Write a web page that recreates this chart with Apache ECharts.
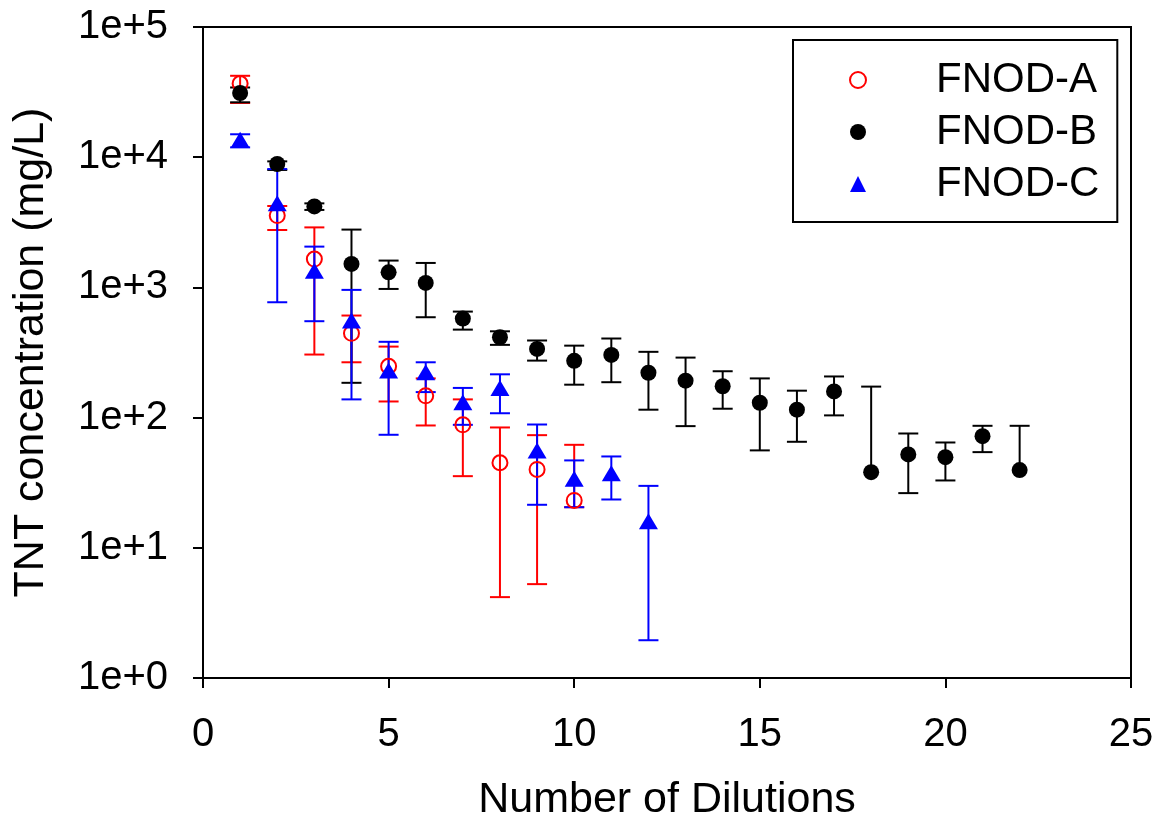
<!DOCTYPE html>
<html>
<head>
<meta charset="utf-8">
<script src="https://cdn.jsdelivr.net/npm/echarts@6/dist/echarts.min.js"></script>
<style>
  html, body { margin: 0; padding: 0; background: #fff; }
  #main { width: 1162px; height: 822px; }
</style>
</head>
<body>
<div id="main"></div>
<script>
// 数据：稀释次数与 TNT 浓度 (mg/L)
var dilA = [1, 2, 3, 4, 5, 6, 7, 8, 9, 10];
var valA = [36800, 3560, 1650, 444, 248, 147, 88, 45, 40, 23.1];
var lowA = [26100, 2760, 305, 266, 133, 87, 35.5, 4.18, 5.26, 20.5];
var highA = [42200, 4220, 2890, 608, 351, 200, 138, 84, 73.3, 61.8];

var dilB = [1, 2, 3, 4, 5, 6, 7, 8, 9, 10, 11, 12, 13, 14, 15, 16, 17, 18, 19, 20, 21, 22];
var valB = [31100, 8870, 4190, 1515, 1306, 1083, 576, 414, 337, 273, 303, 221, 192, 174, 130, 115, 159, 38.1, 52.1, 49.7, 72, 39.5];
var lowB = [26400, 7980, 3935, 185, 973, 590, 474, 362, 274, 179, 187, 115, 86, 117, 56, 65.2, 104, null, 26.3, 32.9, 54.3, null];
var highB = [34300, 9290, 4420, 2780, 1607, 1541, 652, 460, 391, 357, 405, 320, 289, 227, 200, 161, 207, 173, 75.5, 64.4, 86.5, 86.5];

var dilC = [1, 2, 3, 4, 5, 6, 7, 8, 9, 10, 11, 12];
var valC = [13600, 4420, 1345, 556, 230, 223, 131, 169, 56, 33.9, 37.4, 16.0];
var lowC = [11900, 769, 550, 138, 73.8, 157, 88, 108, 21.4, 20.5, 23.5, 1.95];
var highC = [15000, 8110, 2057, 957, 382, 266, 169, 215, 88.5, 46.9, 50.3, 29.9];

var xTicks = [0, 5, 10, 15, 20, 25];
var yTicks = [1, 10, 100, 1000, 10000, 100000];

var FONT = '"Liberation Sans", Arial, Helvetica, sans-serif';

function points(xs, vs) {
    return xs.map(function (x, i) { return [x, vs[i]]; });
}
// [x, 下限, 上限, 是否有下限]
function errData(xs, vs, lo, hi) {
    return xs.map(function (x, i) {
        return [x, lo[i] == null ? vs[i] : lo[i], hi[i], lo[i] == null ? 0 : 1];
    });
}

function errRender(color) {
    return function (params, api) {
        var x = api.value(0);
        var top = api.coord([x, api.value(2)]);
        var bot = api.coord([x, api.value(1)]);
        var hw = 10;
        var st = { stroke: color, lineWidth: 2 };
        var kids = [
            { type: 'line', shape: { x1: top[0], y1: top[1], x2: bot[0], y2: bot[1] }, style: st },
            { type: 'line', shape: { x1: top[0] - hw, y1: top[1], x2: top[0] + hw, y2: top[1] }, style: st }
        ];
        if (api.value(3) === 1) {
            kids.push({ type: 'line', shape: { x1: bot[0] - hw, y1: bot[1], x2: bot[0] + hw, y2: bot[1] }, style: st });
        }
        return { type: 'group', children: kids };
    };
}

var chart = echarts.init(document.getElementById('main'));

var option = {
    backgroundColor: '#fff',
    animation: false,
    textStyle: { fontFamily: FONT, color: '#000' },
    grid: {
        left: 203, right: 31, top: 27, bottom: 144,
        outerBoundsMode: 'none',
        show: true, borderColor: '#000', borderWidth: 2, backgroundColor: 'transparent'
    },
    legend: {
        orient: 'vertical',
        left: 793,
        top: 40,
        padding: [19, 18, 17, 56],
        itemWidth: 16,
        itemHeight: 16,
        itemGap: 10,
        borderColor: '#000',
        borderWidth: 2,
        backgroundColor: '#fff',
        textStyle: { fontFamily: FONT, fontSize: 42, color: '#000', lineHeight: 42, padding: [0, 0, 0, 65] },
        data: [
            { name: 'FNOD-A', icon: 'circle' },
            { name: 'FNOD-B', icon: 'circle' },
            { name: 'FNOD-C', icon: 'triangle' }
        ]
    },
    xAxis: {
        type: 'value',
        min: 0, max: 25, interval: 5,
        name: 'Number of Dilutions',
        nameLocation: 'middle',
        nameGap: 101,
        nameTextStyle: { fontFamily: FONT, fontSize: 43, color: '#000' },
        axisLine: { show: true, onZero: false, lineStyle: { color: '#000', width: 2 } },
        axisTick: { show: true, inside: false, length: 10, lineStyle: { color: '#000', width: 2 } },
        axisLabel: {
            fontFamily: FONT, fontSize: 40, color: '#000', margin: 37,
            formatter: function (v) { return xTicks.indexOf(v) >= 0 ? String(v) : ''; }
        },
        splitLine: { show: false }
    },
    yAxis: {
        type: 'log',
        logBase: 10,
        min: 1, max: 100000,
        name: 'TNT concentration (mg/L)',
        nameLocation: 'middle',
        nameGap: 150,
        nameTextStyle: { fontFamily: FONT, fontSize: 43, color: '#000' },
        axisLine: { show: true, lineStyle: { color: '#000', width: 2 } },
        axisTick: { show: true, inside: false, length: 10, lineStyle: { color: '#000', width: 2 } },
        axisLabel: {
            fontFamily: FONT, fontSize: 40, color: '#000', margin: 35,
            formatter: function (v) {
                return yTicks.indexOf(v) >= 0 ? '1e+' + Math.round(Math.log10(v)) : '';
            }
        },
        splitLine: { show: false },
        minorTick: { show: false }
    },
    series: [
        {
            name: 'errA', type: 'custom', renderItem: errRender('#ff0000'),
            data: errData(dilA, valA, lowA, highA), silent: true
        },
        {
            name: 'FNOD-A', type: 'scatter', symbol: 'circle', symbolSize: 15,
            itemStyle: { color: 'rgba(255,255,255,0)', borderColor: '#ff0000', borderWidth: 2, opacity: 1 },
            data: points(dilA, valA)
        },
        {
            name: 'errB', type: 'custom', renderItem: errRender('#000000'),
            data: errData(dilB, valB, lowB, highB), silent: true
        },
        {
            name: 'FNOD-B', type: 'scatter', symbol: 'circle', symbolSize: 16,
            itemStyle: { color: '#000000', opacity: 1 },
            data: points(dilB, valB)
        },
        {
            name: 'errC', type: 'custom', renderItem: errRender('#0000ff'),
            data: errData(dilC, valC, lowC, highC), silent: true
        },
        {
            name: 'FNOD-C', type: 'scatter', symbol: 'triangle', symbolSize: [19, 16],
            itemStyle: { color: '#0000ff', opacity: 1 },
            data: points(dilC, valC)
        }
    ]
};

chart.setOption(option);
</script>
</body>
</html>
